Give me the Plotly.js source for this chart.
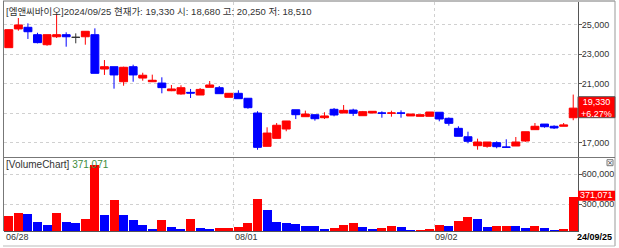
<!DOCTYPE html>
<html><head><meta charset="utf-8">
<script src="https://cdn.plot.ly/plotly-3.0.1.min.js"></script>
<style>html,body{margin:0;padding:0;background:#fff;}#chart{width:619px;height:248px;}</style>
</head><body><div id="chart"></div>
<script>
// ---------- data ----------
const dates = ['06/28',
 '07/01','07/02','07/03','07/04','07/05','07/08','07/09','07/10','07/11','07/12','07/15','07/16','07/17','07/18','07/19','07/22','07/23','07/24','07/25','07/26','07/29','07/30','07/31',
 '08/01','08/02','08/05','08/06','08/07','08/08','08/09','08/12','08/13','08/14','08/16','08/19','08/20','08/21','08/22','08/23','08/26','08/27','08/28','08/29','08/30',
 '09/02','09/03','09/04','09/05','09/06','09/09','09/10','09/11','09/12','09/13','09/19','09/20','09/23','09/24','09/25'];
const openP  = [23430,24700,24810,24310,23630,24170,24310,24130,24170,24310,21980,22140,21120,22140,21370,21120,21030,20510,20290,20400,20220,20740,20715,20064,20335,20000,19000,16740,17280,17915,19220,18750,18885,18680,19250,19000,19200,18817,19000,19000,18990,19000,18800,18776,18776,19050,18640,17960,17390,16783,16742,16990,16690,16763,17100,17870,18250,18100,18100,18680];
const highP  = [24650,25440,25080,24440,24310,25710,24470,24400,24540,24740,22590,22140,22140,22275,21730,21600,21420,20900,20880,20630,20695,21170,20830,20335,20540,20000,19120,18030,18320,18460,19220,19160,18885,19050,19340,19540,19290,19140,19115,19115,19156,19180,18930,18885,19068,19050,18700,18098,17732,17260,17034,17080,17217,17373,17730,18322,18250,18166,18322,20250];
const lowP   = [23430,24580,24020,23720,23560,24085,23495,23725,23630,21690,21580,20650,20850,21120,21190,21120,20335,20480,20240,20020,20220,20740,20310,20064,19970,19290,16510,16740,17280,17760,18590,18750,18480,18593,18776,19000,18800,18817,19000,18681,18749,18681,18800,18776,18776,18437,18140,17420,16946,16512,16647,16606,16680,16763,17050,17870,18003,17915,18100,18510];
const closeP = [24650,24970,24510,23770,24310,24310,24170,24130,24540,21690,22140,21580,22100,21580,21560,21220,20720,20630,20715,20350,20600,20900,20310,20335,19970,19360,16670,17640,18170,18460,18885,18930,18613,18800,18865,19180,18980,19090,19115,18990,19000,18990,18930,18885,19068,18593,18300,17420,17080,17034,17034,16715,16680,17034,17730,18100,18070,17985,18190,19330];
const volume = [180000,216000,203000,126000,90000,216000,126000,110000,153000,696000,
 193000,340000,190000,146000,93000,53000,140000,73000,53000,153000,
 60000,53000,63000,64000,76000,113000,353000,240000,126000,110000,
 100000,82000,80000,50000,63000,93000,113000,73000,53000,66000,
 83000,73000,43000,44000,53000,90000,80000,136000,173000,153000,
 76000,86000,87000,80000,60000,83000,63000,43000,53000,371071];
const priceTicks = [17000,19000,21000,23000,25000];
const priceTickText = ['17,000','','21,000','23,000','25,000'];
const volTicks = [300000,600000];
const volTickText = ['300,000','600,000'];
const titleText = '[엠앤씨바이오]2024/09/25 현재가: 19,330 시: 18,680 고: 20,250 저: 18,510';
const lastClose = '19,330', lastChange = '+6.27%', lastVolume = '371,071';

// ---------- helpers ----------
const W = 619, H = 248, L = 4, R = 578, T = 2, B = 231;
const px = v => (v - L) / (R - L);
const py = v => (B - v) / (B - T);
const RED = '#ff0000', BLUE = '#0000ff';
const FONT = "'Liberation Sans', Arial, 'Noto Sans CJK KR', sans-serif";

const idx = dates.map((d, i) => i);
const isDoji = idx.map(i => openP[i] === closeP[i]);
const pick = (arr, want) => arr.map((v, i) => (isDoji[i] === want ? v : null));

const volColors = volume.map((v, i) => (i === 0 || v > volume[i - 1]) ? RED : BLUE);

const traces = [
  {type: 'candlestick', x: idx, open: pick(openP, false), high: pick(highP, false), low: pick(lowP, false), close: pick(closeP, false),
   increasing: {line: {color: RED, width: 1}, fillcolor: RED},
   decreasing: {line: {color: BLUE, width: 1}, fillcolor: BLUE},
   whiskerwidth: 0, xaxis: 'x', yaxis: 'y', hoverinfo: 'skip'},
  {type: 'candlestick', x: idx, open: pick(openP, true), high: pick(highP, true), low: pick(lowP, true), close: pick(closeP, true),
   increasing: {line: {color: '#333333', width: 1}, fillcolor: '#333333'},
   decreasing: {line: {color: '#333333', width: 1}, fillcolor: '#333333'},
   whiskerwidth: 0, xaxis: 'x', yaxis: 'y', hoverinfo: 'skip'},
  {type: 'bar', x: idx, y: volume, width: 0.94, marker: {color: volColors, line: {width: 0}},
   xaxis: 'x', yaxis: 'y2', hoverinfo: 'skip'}
];

const axisCommon = {
  side: 'right', showgrid: true, gridcolor: '#d0d0d0', griddash: 'dot', gridwidth: 1,
  showline: true, linecolor: '#555', linewidth: 1, ticks: 'outside', ticklen: 3, tickcolor: '#555',
  tickfont: {family: FONT, size: 9, color: '#333'}, zeroline: false, fixedrange: true,
  tickmode: 'array', ticklabelstandoff: -2
};

const i0801 = dates.indexOf('08/01'), i0902 = dates.indexOf('09/02');

const ann = (x, y, text, opts) => Object.assign({xref: 'paper', yref: 'paper', x: px(x), y: py(y), text: text,
  showarrow: false, xanchor: 'left', yanchor: 'middle', borderpad: 0,
  font: {family: FONT, size: 9, color: '#333'}}, opts || {});

const line = (x0, y0, x1, y1, color, w) => ({type: 'line', xref: 'paper', yref: 'paper',
  x0: px(x0), y0: py(y0), x1: px(x1), y1: py(y1), line: {color: color, width: w || 1}, layer: 'above'});

const layout = {
  width: W, height: H, margin: {l: L, r: W - R, t: T, b: H - B, pad: 0},
  paper_bgcolor: '#fff', plot_bgcolor: '#fff', showlegend: false,
  boxgap: 0.17, boxgroupgap: 0,
  bargap: 0,
  xaxis: {range: [-0.5, dates.length - 0.5], tickmode: 'array', tickvals: [i0801 - 0.5, i0902 - 0.5],
    showticklabels: false, ticks: '', showgrid: true, gridcolor: '#d0d0d0', griddash: 'dot',
    showline: true, linecolor: '#555', zeroline: false, anchor: 'y2', fixedrange: true,
    rangeslider: {visible: false}},
  yaxis: Object.assign({}, axisCommon, {domain: [py(157.5), 1], range: [15983, 26526], tickvals: priceTicks, ticktext: priceTickText}),
  yaxis2: Object.assign({}, axisCommon, {domain: [0, py(158)], range: [33000, 763000], tickvals: volTicks, ticktext: volTickText}),
  shapes: [
    line(3, 1, 615, 1, '#777'),
    line(3.5, 1, 3.5, 231, '#777'),
    line(615, 1, 615, 246, '#999'),
    line(3, 157.5, 615, 157.5, '#777'),
    line(3, 246, 615, 246, '#bbb'),
    {type: 'rect', xref: 'paper', yref: 'paper', x0: px(578), x1: px(615), y0: py(117.7), y1: py(96.7),
     fillcolor: RED, line: {color: '#555', width: 1}, layer: 'above'},
    {type: 'rect', xref: 'paper', yref: 'paper', x0: px(578), x1: px(615), y0: py(200.7), y1: py(190.7),
     fillcolor: RED, line: {width: 0}, layer: 'above'},
    {type: 'rect', xref: 'paper', yref: 'paper', x0: px(607), x1: px(613), y0: py(165.7), y1: py(159.7),
     fillcolor: '#fff', line: {color: '#777', width: 1}, layer: 'above'}
  ],
  annotations: [
    ann(5, 11.5, titleText, {font: {family: FONT, size: 9.5, color: '#333'}}),
    ann(5, 164, '[VolumeChart] <span style="color:#3c8c3c">' + lastVolume + '</span>', {font: {family: FONT, size: 10, color: '#333'}}),
    ann(5, 237, dates[0]),
    ann(234, 237, dates[i0801]),
    ann(434, 237, dates[i0902]),
    ann(613, 237, '<b>24/' + dates[dates.length - 1] + '</b>', {xanchor: 'right', font: {family: FONT, size: 9, color: '#000'}}),
    ann(596.5, 107.5, lastClose + '<br>' + lastChange, {xanchor: 'center', font: {family: FONT, size: 9, color: '#fff'}}),
    ann(596.5, 195.3, lastVolume, {xanchor: 'center', font: {family: FONT, size: 9, color: '#fff'}}),
    ann(610, 162.7, '×', {xanchor: 'center', font: {family: 'DejaVu Sans', size: 7, color: '#333'}})
  ]
};

Plotly.newPlot('chart', traces, layout, {staticPlot: true, displayModeBar: false});
</script>
</body></html>
